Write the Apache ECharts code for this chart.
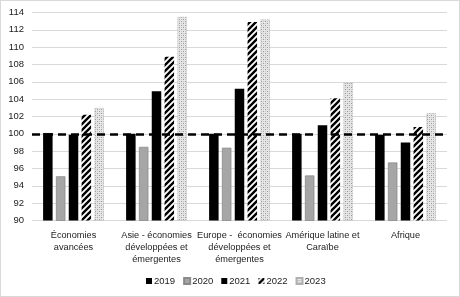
<!DOCTYPE html>
<html><head><meta charset="utf-8">
<script src="https://cdn.jsdelivr.net/npm/echarts@6/dist/echarts.min.js"></script>
<style>html,body{margin:0;padding:0;background:#fff;}#c{width:458px;height:295px;border:1px solid #d9d9d9;}</style>
</head><body><div id="c"></div>
<script>
const categories = ["Économies\navancées", "Asie - économies\ndéveloppées et\némergentes", "Europe -  économies\ndéveloppées et\némergentes", "Amérique latine et\nCaraïbe", "Afrique"];
const years = ["2019", "2020", "2021", "2022", "2023"];
const v2019 = [100.1, 100.0, 100.0, 100.0, 99.9];
const v2020 = [95.1, 98.5, 98.4, 95.2, 96.7];
const v2021 = [99.9, 104.9, 105.2, 101.0, 99.0];
const v2022 = [102.2, 108.9, 112.9, 104.1, 100.8];
const v2023 = [103.0, 113.5, 113.2, 105.9, 102.4];
const referenceLevel = 100;

function stripePattern(){
  const c = document.createElement('canvas'); c.width = 6; c.height = 6;
  const g = c.getContext('2d');
  g.fillStyle = '#fff'; g.fillRect(0,0,6,6);
  g.strokeStyle = '#000'; g.lineWidth = 2.4;
  g.beginPath();
  g.moveTo(-1,7); g.lineTo(7,-1);
  g.moveTo(-4,4); g.lineTo(4,-4);
  g.moveTo(2,10); g.lineTo(10,2);
  g.stroke();
  return {image: c, repeat: 'repeat'};
}
function dotPattern(){
  const c = document.createElement('canvas'); c.width = 4; c.height = 4;
  const g = c.getContext('2d');
  g.fillStyle = '#e6e6e6'; g.fillRect(0,0,4,4);
  g.fillStyle = '#9a9a9a';
  g.fillRect(0,0,1,1); g.fillRect(2,2,1,1);
  g.fillStyle = '#c4c4c4';
  g.fillRect(2,0,1,1); g.fillRect(0,2,1,1);
  return {image: c, repeat: 'repeat'};
}
const vals = [v2019, v2020, v2021, v2022, v2023];
const styles = [
  {color: '#000000'},
  {color: '#a6a6a6', borderColor: '#8a8a8a', borderWidth: 0.8},
  {color: '#000000'},
  {color: stripePattern()},
  {color: dotPattern(), borderColor: '#b0b0b0', borderWidth: 0.8, borderType: 'dotted'}
];
const series = years.map((y, i) => ({
  name: y, type: 'bar', data: vals[i], barWidth: 9.5, barGap: '35%',
  itemStyle: styles[i]
}));
series[0].markLine = {
  silent: true, symbol: 'none', label: {show: false},
  lineStyle: {color: '#000', type: [8, 5], width: 2.5},
  data: [{yAxis: referenceLevel}]
};
const FONT = '"Liberation Sans", Arial, sans-serif';
const chart = echarts.init(document.getElementById('c'), null, {renderer: 'canvas'});
chart.setOption({
  animation: false,
  textStyle: {fontFamily: FONT},
  grid: {left: 31, right: 12, top: 11.5, bottom: 75.5},
  legend: {
    bottom: 10, left: 145, padding: 0, itemWidth: 6, itemHeight: 6, itemGap: 8, icon: 'rect',
    textStyle: {fontSize: 9.5, color: '#222', padding: [0, 0, 0, -3], fontFamily: FONT},
    data: years
  },
  xAxis: {
    type: 'category', data: categories,
    axisLine: {show: false}, axisTick: {show: false},
    axisLabel: {fontSize: 9.2, color: '#222', lineHeight: 12, margin: 9, interval: 0, fontFamily: FONT}
  },
  yAxis: {
    type: 'value', min: 90, max: 114, interval: 2,
    axisLine: {show: false}, axisTick: {show: false},
    axisLabel: {fontSize: 9.5, color: '#222', margin: 8, fontFamily: FONT},
    splitLine: {lineStyle: {color: '#d9d9d9', width: 1}}
  },
  series: series
});
</script></body></html>
